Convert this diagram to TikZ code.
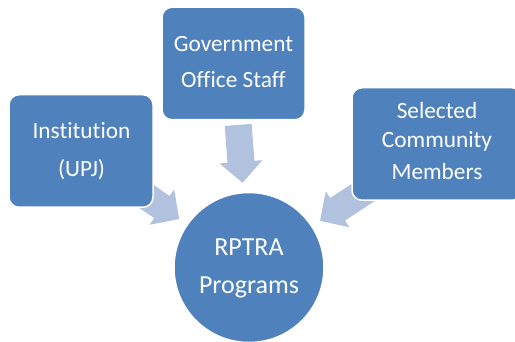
\documentclass[tikz,border=0pt]{standalone}
\usepackage{fontspec}
\setmainfont{Carlito}[Ligatures=NoCommon]
\usetikzlibrary{calc}
\pgfdeclarelayer{background}
\pgfsetlayers{background,main}
\definecolor{boxblue}{HTML}{4F81BD}
\definecolor{arrowblue}{RGB}{176,194,222}
\tikzset{
  blockbox/.style={rectangle, rounded corners=10pt, fill=boxblue, draw=white, line width=1.5pt, inner sep=0pt, minimum width=143pt, minimum height=112.5pt},
  hubcircle/.style={circle, fill=boxblue, draw=white, line width=1.5pt, minimum size=150pt, inner sep=0pt},
  boxtext/.style={text=white, font=\fontsize{23.3}{28}\selectfont, anchor=base, inner sep=0pt},
  hubtext/.style={text=white, font=\fontsize{26}{31}\selectfont, anchor=base, inner sep=0pt},
  blockarrow/.style={fill=arrowblue},
}
\newcommand\drawblockarrow[1]{%
  \coordinate (#1-base) at ($(#1-tip)!21pt!(#1-tail)$);
  \fill[blockarrow] (#1-tip)
    -- ($(#1-base)!21.5pt!90:(#1-tip)$)
    -- ($(#1-base)!13.5pt!90:(#1-tip)$)
    -- ($(#1-tail)!13.5pt!90:(#1-tip)$)
    -- ($(#1-tail)!13.5pt!-90:(#1-tip)$)
    -- ($(#1-base)!13.5pt!-90:(#1-tip)$)
    -- ($(#1-base)!21.5pt!-90:(#1-tip)$)
    -- cycle;%
}
\begin{document}
\begin{tikzpicture}[x=1pt, y=-1pt]
\useasboundingbox (0,0) rectangle (515,342);
\clip (0,0) rectangle (515,342);
% boxes and hub
\node[blockbox, minimum width=144pt] (inst) at (81,151) {};
\node[blockbox] (gov) at (233.5,63.5) {};
\node[blockbox, minimum width=170pt] (sel) at (437,144) {};
\node[hubcircle] (hub) at (249,267.5) {};
% texts
\node[boxtext] (inst-l1) at (81.5,139) {Institution};
\node[boxtext] (inst-l2) at (81.5,177) {(UPJ)};
\node[boxtext] (gov-l1) at (233.5,52) {Government};
\node[boxtext] (gov-l2) at (233.5,88) {Office Staff};
\node[boxtext] (sel-l1) at (437,119) {Selected};
\node[boxtext] (sel-l2) at (437,148) {Community};
\node[boxtext] (sel-l3) at (437,180) {Members};
\node[hubtext] (hub-l1) at (249,256) {RPTRA};
\node[hubtext] (hub-l2) at (249,294) {Programs};
% block arrows behind
\begin{pgfonlayer}{background}
\coordinate (a1-tip) at ($(hub.center)!85pt!(inst.center)$);
\coordinate (a1-tail) at ($(hub.center)!143pt!(inst.center)$);
\coordinate (a2-tip) at ($(hub.center)!85pt!(gov.center)$);
\coordinate (a2-tail) at ($(hub.center)!143pt!(gov.center)$);
\coordinate (a3-tip) at ($(hub.center)!85pt!(sel.center)$);
\coordinate (a3-tail) at ($(hub.center)!143pt!(sel.center)$);
\drawblockarrow{a1}
\drawblockarrow{a2}
\drawblockarrow{a3}
\end{pgfonlayer}
\end{tikzpicture}
\end{document}
